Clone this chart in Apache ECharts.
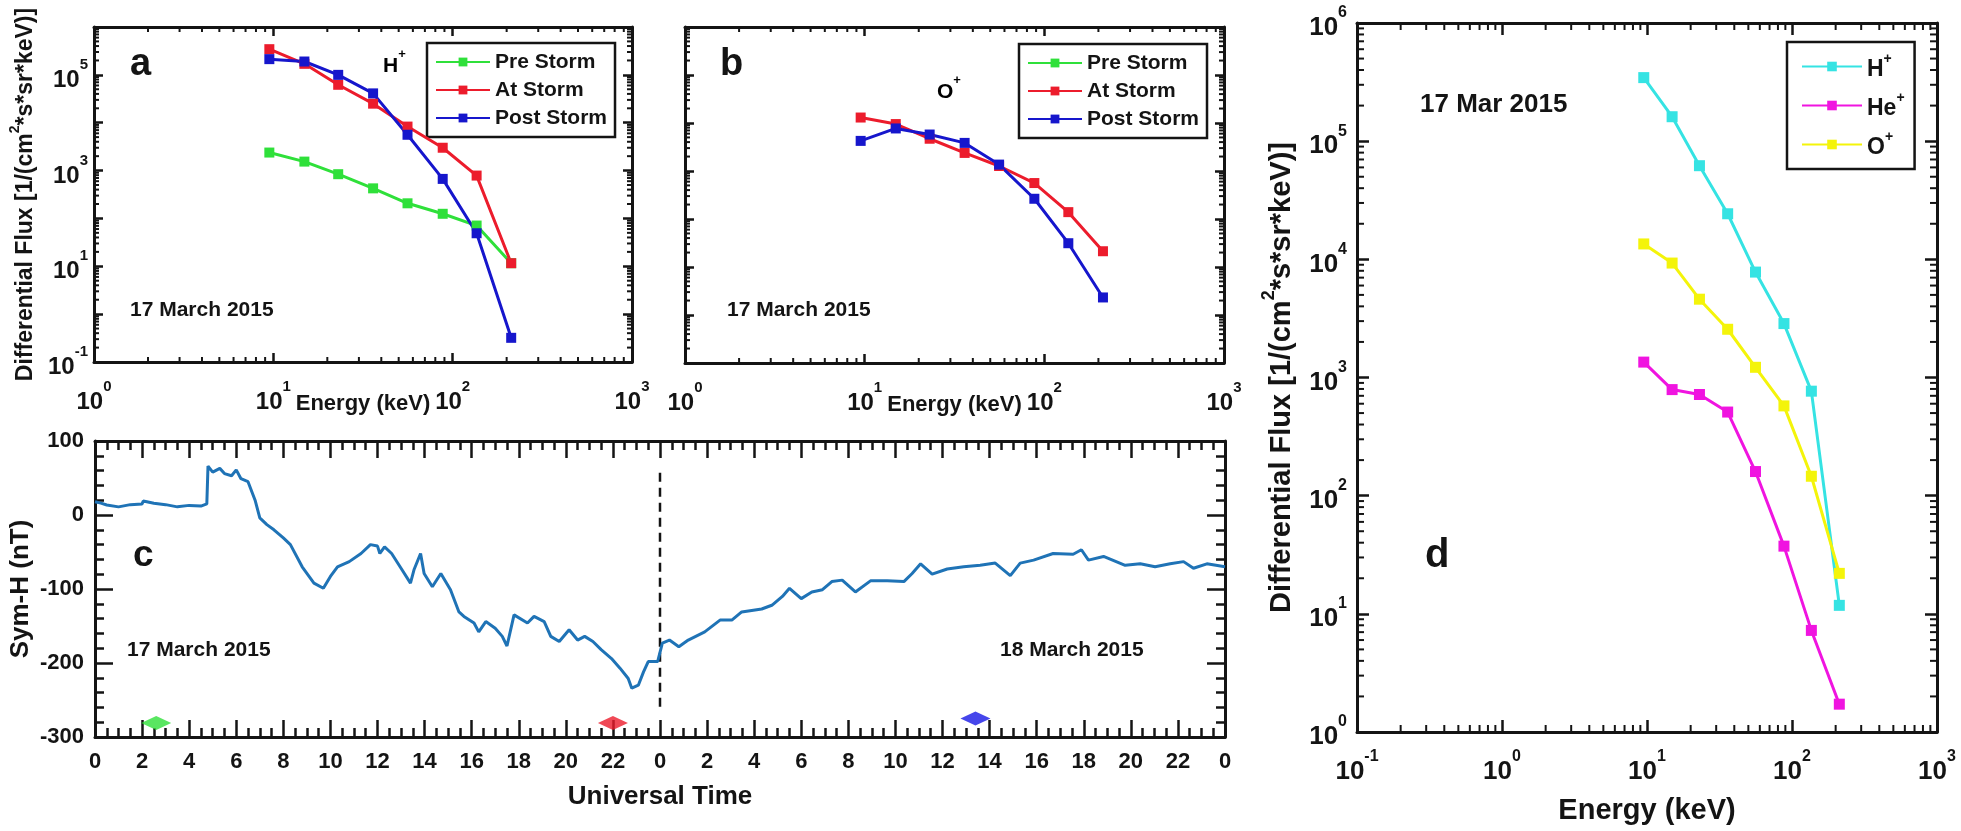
<!DOCTYPE html>
<html>
<head>
<meta charset="utf-8">
<script src="https://cdn.jsdelivr.net/npm/echarts/dist/echarts.min.js"></script>
<style>html,body{margin:0;padding:0;background:#fff}#chart{width:1961px;height:831px}</style>
</head>
<body>
<div id="chart"></div>
<script>
// ---------- data ----------
const energyKeV = [9.5, 14.9, 23, 36, 56, 88, 136, 212];

// panel a : H+
const hPreStorm  = [2380, 1540, 840, 425, 207, 125, 71, 11.6];
const hAtStorm   = [344000, 170000, 62000, 25000, 8300, 3000, 786, 11.6];
const hPostStorm = [213000, 190000, 100000, 41000, 5600, 670, 49, 0.32];

// panel b : O+
const oAtStorm   = [13000, 9500, 4700, 2380, 1270, 561, 139, 21.3];
const oPostStorm = [4240, 7700, 5750, 3850, 1360, 264, 31.3, 2.32];

// panel d : 17 Mar 2015
const dHplus  = [345000, 161000, 62000, 24300, 7800, 2860, 766, 11.8];
const dHeplus = [1350, 790, 718, 510, 160, 37.4, 7.24, 1.72];
const dOplus  = [13500, 9300, 4600, 2560, 1220, 575, 146, 22];

// panel c : Sym-H, hours since 17 Mar 2015 00 UT
const symhHours = [0,0.25,0.5,1,1.5,2,2.05,2.5,2.55,3,3.5,4,4.5,4.75,4.8,5,5.3,5.5,5.8,6,6.2,6.5,6.8,7,7.3,7.6,8,8.3,8.8,9.3,9.7,10,10.3,10.8,11.3,11.7,12,12.1,12.3,12.6,13,13.4,13.55,13.83,13.98,14.33,14.69,15.1,15.46,15.67,16.1,16.3,16.6,17,17.3,17.5,17.8,18.37,18.65,19.08,19.36,19.72,20.14,20.5,20.8,21.15,21.5,21.94,22.3,22.65,22.8,23.08,23.3,23.5,23.9,24.1,24.4,24.8,25.2,25.9,26.55,27.05,27.47,28.32,28.75,29.2,29.5,30,30.45,30.9,31.3,31.74,32.3,32.94,33.65,34.36,34.71,35.07,35.56,36.2,36.9,37.6,38.24,38.88,39.3,39.87,40.7,41.55,41.9,42.2,42.84,43.76,44.4,45.03,45.67,46.24,46.66,47.23,48];
const symhNT = [18,16,13.5,11,14,15,19,16,18,14,11,13,12,15,66,58,63,56,53,61,49,45,20,-4,-13,-20,-31,-40,-70,-92,-99,-83,-70,-63,-52,-40,-42,-52,-43,-52,-72,-92,-74,-52,-79,-97,-79,-101,-131,-137,-146,-158,-144,-153,-164,-177,-135,-146,-137,-144,-164,-171,-155,-169,-164,-171,-182,-194,-207,-221,-234,-230,-212,-198,-198,-173,-169,-178,-169,-158,-142,-142,-131,-127,-122,-110,-99,-113,-104,-101,-90,-88,-104,-89,-89,-90,-79,-66,-80,-73,-70,-68,-65,-82,-65,-61,-52,-53,-47,-61,-56,-68,-66,-70,-66,-63,-72,-66,-70];

// storm-phase markers on panel c (hours, nT)
const stormMarkHours = [2.6, 22.0, 37.4];
const stormMarkNT    = [-281, -281, -275];
// midnight separator
const midnightHours = [24, 24];
const midnightNT    = [57, -262];

// ---------- styling helpers ----------
const FONT = '"Liberation Sans", Arial, Helvetica, sans-serif';
const INK = '#141414';
const C_GREEN = '#2fe03a', C_RED = '#ec1c2c', C_BLUE = '#1616cc';
const C_CYAN = '#35e3e3', C_MAG = '#f014e0', C_YEL = '#f4f40a';
const C_SYMH = '#1f73b6';

function supRich(fs, raise) {
  const sf = Math.round(fs * 0.62);
  return {
    b: {fontFamily: FONT, fontWeight: 'bold', fontSize: fs, color: INK, lineHeight: fs + raise, verticalAlign: 'bottom'},
    s: {fontFamily: FONT, fontWeight: 'bold', fontSize: sf, color: INK, lineHeight: sf, verticalAlign: 'top'}
  };
}
function pow10(v) { return '{b|10}{s|' + Math.round(Math.log10(v)) + '}'; }
function pow10Odd(v) { const e = Math.round(Math.log10(v)); return (Math.abs(e) % 2 === 1) ? '{b|10}{s|' + e + '}' : ''; }
function zip(xs, ys) { return xs.map((x, i) => [x, ys[i]]); }

function logAxis(grid, pos, min, max, tickLen, label) {
  return {
    type: 'log', logBase: 10, gridIndex: grid, position: pos, min: min, max: max,
    nameMoveOverlap: false,
    axisLine: {show: true, onZero: false, lineStyle: {color: INK, width: 3}},
    axisTick: {show: true, inside: true, length: tickLen, lineStyle: {color: INK, width: 2.5}},
    axisLabel: label ? Object.assign({show: true, showMinLabel: true, showMaxLabel: true, hideOverlap: false}, label) : {show: false},
    splitLine: {show: false}, minorTick: {show: false}, minorSplitLine: {show: false}
  };
}
function minorValues(lo, hi) {
  const out = [];
  for (let e = Math.floor(Math.log10(lo) + 1e-9); e < Math.ceil(Math.log10(hi) - 1e-9); e++)
    for (let k = 2; k <= 9; k++) { const v = k * Math.pow(10, e); if (v > lo * 1.0001 && v < hi * 0.9999) out.push(v); }
  return out;
}
function minorTickSeries(xi, yi, xr, yr, len) {
  return {
    type: 'custom', xAxisIndex: xi, yAxisIndex: yi, silent: true, clip: false, z: 3,
    data: [[xr[0] * 2, yr[0] * 2]],
    renderItem: function (params, api) {
      const ch = [];
      const st = {stroke: INK, lineWidth: 2};
      minorValues(xr[0], xr[1]).forEach(v => {
        const b = api.coord([v, yr[0]]), t = api.coord([v, yr[1]]);
        ch.push({type: 'line', shape: {x1: b[0], y1: b[1], x2: b[0], y2: b[1] - len}, style: st});
        ch.push({type: 'line', shape: {x1: t[0], y1: t[1], x2: t[0], y2: t[1] + len}, style: st});
      });
      minorValues(yr[0], yr[1]).forEach(v => {
        const l = api.coord([xr[0], v]), r = api.coord([xr[1], v]);
        ch.push({type: 'line', shape: {x1: l[0], y1: l[1], x2: l[0] + len, y2: l[1]}, style: st});
        ch.push({type: 'line', shape: {x1: r[0], y1: r[1], x2: r[0] - len, y2: r[1]}, style: st});
      });
      return {type: 'group', children: ch};
    }
  };
}
function specLine(name, xi, yi, ys, color, lw, ss) {
  return {
    type: 'line', name: name, xAxisIndex: xi, yAxisIndex: yi, data: zip(energyKeV, ys),
    symbol: 'rect', symbolSize: ss, showSymbol: true,
    lineStyle: {color: color, width: lw}, itemStyle: {color: color}, z: 4
  };
}
function valAxis(grid, pos, min, max, interval, minorSplit, majLen, label, name) {
  const a = {
    type: 'value', gridIndex: grid, position: pos, min: min, max: max, interval: interval,
    nameMoveOverlap: false,
    axisLine: {show: true, onZero: false, lineStyle: {color: INK, width: 3}},
    axisTick: {show: true, inside: true, length: majLen, lineStyle: {color: INK, width: 2.5}},
    minorTick: {show: true, splitNumber: minorSplit, length: Math.round(majLen * 0.5), lineStyle: {color: INK, width: 2.5}},
    axisLabel: label ? Object.assign({show: true, showMinLabel: true, showMaxLabel: true, hideOverlap: false}, label) : {show: false},
    splitLine: {show: false}
  };
  return Object.assign(a, name || {});
}
const plain22 = {fontFamily: FONT, fontWeight: 'bold', fontSize: 22, color: INK};

const legendBase = {
  orient: 'vertical', selectedMode: false, backgroundColor: '#fff',
  borderColor: INK, borderWidth: 2.5, borderRadius: 0,
  itemGap: 6, itemWidth: 54, itemHeight: 11,
  textStyle: {fontFamily: FONT, fontWeight: 'bold', fontSize: 21, color: INK, lineHeight: 22}
};
const titleRich = (fs, lh, sfs) => ({
  t: {fontFamily: FONT, fontWeight: 'bold', fontSize: fs, color: INK, lineHeight: lh, verticalAlign: 'bottom'},
  s: {fontFamily: FONT, fontWeight: 'bold', fontSize: sfs, color: INK, lineHeight: sfs, verticalAlign: 'top'}
});
const fluxTitle = '{t|Differential Flux [1/(cm}{s|2}{t|*s*sr*keV)]}';

const chart = echarts.init(document.getElementById('chart'), null, {renderer: 'canvas'});
const option = {
  animation: false,
  backgroundColor: '#fff',
  grid: [
    {left: 94, top: 27, width: 538, height: 335},
    {left: 685, top: 27, width: 539, height: 336},
    {left: 94, top: 441, width: 1131, height: 296},
    {left: 1357, top: 23, width: 580, height: 709}
  ],
  xAxis: [
    Object.assign(logAxis(0, 'bottom', 1, 1000, 9, {formatter: pow10, margin: 17, rich: supRich(24, 11)}),
      {name: 'Energy (keV)', nameLocation: 'middle', nameGap: 31, nameTextStyle: {fontFamily: FONT, fontWeight: 'bold', fontSize: 22, color: INK}}),
    logAxis(0, 'top', 1, 1000, 9, null),
    Object.assign(logAxis(1, 'bottom', 1, 1000, 9, {formatter: pow10, margin: 17, rich: supRich(24, 11)}),
      {name: 'Energy (keV)', nameLocation: 'middle', nameGap: 31, nameTextStyle: {fontFamily: FONT, fontWeight: 'bold', fontSize: 22, color: INK}}),
    logAxis(1, 'top', 1, 1000, 9, null),
    valAxis(2, 'bottom', 0, 48, 2, 4, 17, Object.assign({margin: 14, formatter: v => String(Math.round(v) % 24)}, plain22),
      {name: 'Universal Time', nameLocation: 'middle', nameGap: 47, nameTextStyle: {fontFamily: FONT, fontWeight: 'bold', fontSize: 26, color: INK}}),
    valAxis(2, 'top', 0, 48, 2, 4, 17, null),
    Object.assign(logAxis(3, 'bottom', 0.1, 1000, 12, {formatter: pow10, margin: 17, rich: supRich(26, 10)}),
      {name: 'Energy (keV)', nameLocation: 'middle', nameGap: 64, nameTextStyle: {fontFamily: FONT, fontWeight: 'bold', fontSize: 29, color: INK}}),
    logAxis(3, 'top', 0.1, 1000, 12, null)
  ],
  yAxis: [
    Object.assign(logAxis(0, 'left', 0.1, 1e6, 9, {formatter: pow10Odd, margin: 6, rich: supRich(24, 11)}),
      {name: fluxTitle, nameLocation: 'middle', nameGap: 57, nameTextStyle: {rich: titleRich(23, 29, 14)}}),
    logAxis(0, 'right', 0.1, 1e6, 9, null),
    logAxis(1, 'left', 0.1, 1e6, 9, null),
    logAxis(1, 'right', 0.1, 1e6, 9, null),
    valAxis(2, 'left', -300, 100, 100, 5, 18, Object.assign({margin: 11}, plain22),
      {name: 'Sym-H (nT)', nameLocation: 'middle', nameGap: 61, nameTextStyle: {fontFamily: FONT, fontWeight: 'bold', fontSize: 26, color: INK}}),
    valAxis(2, 'right', -300, 100, 100, 5, 18, null),
    Object.assign(logAxis(3, 'left', 1, 1e6, 12, {formatter: pow10, margin: 10, rich: supRich(26, 10)}),
      {name: fluxTitle, nameLocation: 'middle', nameGap: 61, nameTextStyle: {rich: titleRich(29, 36, 18)}}),
    logAxis(3, 'right', 1, 1e6, 12, null)
  ],
  legend: [
    Object.assign({}, legendBase, {data: ['Pre Storm', 'At Storm', 'Post Storm'], left: 427, top: 43, padding: [8, 8, 8, 8]}),
    Object.assign({}, legendBase, {data: ['Pre Storm', 'At Storm', 'Post Storm'], left: 1019, top: 44, padding: [8, 8, 8, 8]}),
    Object.assign({}, legendBase, {
      data: ['H+', 'He+', 'O+'], left: 1787, top: 42, padding: [10, 10, 10, 14], itemGap: 10, itemWidth: 60, itemHeight: 12,
      formatter: n => '{b|' + n.replace('+', '') + '}{s|+}',
      textStyle: {fontFamily: FONT, fontWeight: 'bold', fontSize: 23, color: INK, rich: supRich(23, 6)}
    })
  ],
  series: [
    specLine('Pre Storm', 0, 0, hPreStorm, C_GREEN, 3, 10),
    specLine('At Storm', 0, 0, hAtStorm, C_RED, 3, 10),
    specLine('Post Storm', 0, 0, hPostStorm, C_BLUE, 3, 10),
    minorTickSeries(0, 0, [1, 1000], [0.1, 1e6], 5),
    specLine('At Storm', 2, 2, oAtStorm, C_RED, 3, 10),
    specLine('Post Storm', 2, 2, oPostStorm, C_BLUE, 3, 10),
    minorTickSeries(2, 2, [1, 1000], [0.1, 1e6], 5),
    {
      type: 'line', name: 'Sym-H', xAxisIndex: 4, yAxisIndex: 4, data: zip(symhHours, symhNT),
      showSymbol: false, symbol: 'none', lineStyle: {color: C_SYMH, width: 3}, z: 4
    },
    {
      type: 'line', name: 'midnight', xAxisIndex: 4, yAxisIndex: 4, data: zip(midnightHours, midnightNT),
      showSymbol: false, symbol: 'none', lineStyle: {color: INK, width: 2.5, type: [9, 6]}, z: 3
    },
    {
      type: 'scatter', name: 'marks', xAxisIndex: 4, yAxisIndex: 4,
      data: zip(stormMarkHours, stormMarkNT).map((p, i) => ({value: p, itemStyle: {color: [C_GREEN, C_RED, '#1818e6'][i]}})),
      symbol: 'diamond', symbolSize: [30, 14], z: 5
    },
    specLine('H+', 6, 6, dHplus, C_CYAN, 3, 11),
    specLine('He+', 6, 6, dHeplus, C_MAG, 3, 11),
    specLine('O+', 6, 6, dOplus, C_YEL, 3, 11),
    minorTickSeries(6, 6, [0.1, 1000], [1, 1e6], 7)
  ],
  graphic: [
    {type: 'text', x: 130, y: 65, style: {text: 'a', font: 'bold 38px ' + FONT, fill: INK, align: 'left', verticalAlign: 'middle'}},
    {type: 'text', x: 720, y: 65, style: {text: 'b', font: 'bold 38px ' + FONT, fill: INK, align: 'left', verticalAlign: 'middle'}},
    {type: 'text', x: 133, y: 556, style: {text: 'c', font: 'bold 37px ' + FONT, fill: INK, align: 'left', verticalAlign: 'middle'}},
    {type: 'text', x: 1425, y: 556, style: {text: 'd', font: 'bold 40px ' + FONT, fill: INK, align: 'left', verticalAlign: 'middle'}},
    {type: 'text', x: 383, y: 62, style: {text: '{b|H}{s|+}', rich: supRich(21, 8), align: 'left', verticalAlign: 'middle'}},
    {type: 'text', x: 937, y: 88, style: {text: '{b|O}{s|+}', rich: supRich(21, 8), align: 'left', verticalAlign: 'middle'}},
    {type: 'text', x: 130, y: 310, style: {text: '17 March 2015', font: 'bold 21px ' + FONT, fill: INK, align: 'left', verticalAlign: 'middle'}},
    {type: 'text', x: 727, y: 310, style: {text: '17 March 2015', font: 'bold 21px ' + FONT, fill: INK, align: 'left', verticalAlign: 'middle'}},
    {type: 'text', x: 127, y: 650, style: {text: '17 March 2015', font: 'bold 21px ' + FONT, fill: INK, align: 'left', verticalAlign: 'middle'}},
    {type: 'text', x: 1000, y: 650, style: {text: '18 March 2015', font: 'bold 21px ' + FONT, fill: INK, align: 'left', verticalAlign: 'middle'}},
    {type: 'text', x: 1420, y: 105, style: {text: '17 Mar 2015', font: 'bold 26px ' + FONT, fill: INK, align: 'left', verticalAlign: 'middle'}}
  ]
};
chart.setOption(option);
</script>
</body>
</html>
